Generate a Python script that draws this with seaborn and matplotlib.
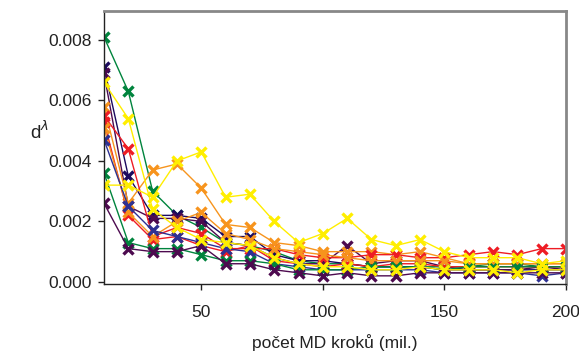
import numpy as np
import pandas as pd
import matplotlib
matplotlib.use("Agg")
import matplotlib.pyplot as plt
import seaborn as sns

steps = [10, 20, 30, 40, 50, 60, 70, 80, 90, 100, 110, 120, 130, 140, 150, 160, 170, 180, 190, 200]

green1 = [0.0081, 0.0063, 0.0030, 0.0022, 0.0018, 0.0013, 0.0012, 0.0010, 0.0007, 0.0006, 0.0006, 0.0005, 0.0005, 0.0005, 0.0005, 0.0005, 0.0006, 0.0006, 0.0005, 0.0005]
navy = [0.0071, 0.0035, 0.0022, 0.0022, 0.0021, 0.0015, 0.0015, 0.0009, 0.0007, 0.0007, 0.0006, 0.0005, 0.0005, 0.0005, 0.0004, 0.0004, 0.0004, 0.0004, 0.0004, 0.0004]
purple1 = [0.0069, 0.0025, 0.0021, 0.0021, 0.0020, 0.0013, 0.0012, 0.0008, 0.0006, 0.0006, 0.0012, 0.0006, 0.0007, 0.0007, 0.0005, 0.0004, 0.0004, 0.0004, 0.0005, 0.0004]
yellow1 = [0.0066, 0.0054, 0.0024, 0.0018, 0.0014, 0.0013, 0.0012, 0.0008, 0.0006, 0.0005, 0.0005, 0.0004, 0.0004, 0.0005, 0.0004, 0.0004, 0.0004, 0.0003, 0.0004, 0.0004]
orange1 = [0.0058, 0.0026, 0.0037, 0.0039, 0.0031, 0.0019, 0.0018, 0.0013, 0.0012, 0.0010, 0.0010, 0.0010, 0.0009, 0.0010, 0.0008, 0.0006, 0.0006, 0.0006, 0.0006, 0.0006]
red1 = [0.0055, 0.0044, 0.0015, 0.0018, 0.0016, 0.0011, 0.0011, 0.0011, 0.0009, 0.0008, 0.0008, 0.0009, 0.0009, 0.0008, 0.0008, 0.0009, 0.0010, 0.0009, 0.0011, 0.0011]
red2 = [0.0053, 0.0022, 0.0014, 0.0015, 0.0012, 0.0010, 0.0012, 0.0007, 0.0006, 0.0005, 0.0006, 0.0005, 0.0006, 0.0006, 0.0005, 0.0005, 0.0005, 0.0005, 0.0005, 0.0005]
orange2 = [0.0051, 0.0023, 0.0015, 0.0020, 0.0023, 0.0016, 0.0014, 0.0011, 0.0010, 0.0009, 0.0008, 0.0007, 0.0007, 0.0007, 0.0007, 0.0006, 0.0006, 0.0006, 0.0006, 0.0006]
blue = [0.0047, 0.0025, 0.0017, 0.0015, 0.0013, 0.0011, 0.0010, 0.0006, 0.0005, 0.0004, 0.0004, 0.0004, 0.0004, 0.0004, 0.0003, 0.0003, 0.0003, 0.0003, 0.0002, 0.0003]
green2 = [0.0036, 0.0013, 0.0011, 0.0011, 0.0009, 0.0007, 0.0007, 0.0006, 0.0004, 0.0004, 0.0004, 0.0005, 0.0005, 0.0005, 0.0004, 0.0005, 0.0005, 0.0005, 0.0005, 0.0005]
purple2 = [0.0026, 0.0011, 0.0010, 0.0010, 0.0012, 0.0006, 0.0006, 0.0004, 0.0003, 0.0002, 0.0003, 0.0002, 0.0002, 0.0003, 0.0003, 0.0003, 0.0003, 0.0003, 0.0003, 0.0003]
yellow2 = [0.0032, 0.0032, 0.0028, 0.0040, 0.0043, 0.0028, 0.0029, 0.0020, 0.0013, 0.0016, 0.0021, 0.0014, 0.0012, 0.0014, 0.0010, 0.0008, 0.0008, 0.0008, 0.0006, 0.0007]

series = [
    ("green1", green1, "#00843D"),
    ("navy", navy, "#1B0A5E"),
    ("purple1", purple1, "#4D0A4F"),
    ("orange1", orange1, "#F7941D"),
    ("red1", red1, "#EE1C24"),
    ("red2", red2, "#EE1C24"),
    ("orange2", orange2, "#F7941D"),
    ("blue", blue, "#2E3192"),
    ("green2", green2, "#00843D"),
    ("purple2", purple2, "#4D0A4F"),
    ("yellow1", yellow1, "#FFEE00"),
    ("yellow2", yellow2, "#FFEE00"),
]

sns.set_style("white")
plt.rcParams["font.family"] = ["Liberation Sans", "DejaVu Sans"]

fig = plt.figure(figsize=(5.79, 3.53), dpi=100)
ax = fig.add_axes([104 / 579, 1 - 284 / 353, (566 - 104) / 579, (284 - 11) / 353])

for name, vals, col in series:
    df = pd.DataFrame({"x": steps, "y": vals})
    sns.lineplot(data=df, x="x", y="y", ax=ax, color=col, linewidth=1.0,
                 marker="x", markersize=6.5, markeredgewidth=2.4,
                 markeredgecolor=col, legend=False)

ax.set_xlim(10, 200)
ax.set_ylim(-0.00007, 0.00896)
ax.set_xticks([50, 100, 150, 200])
ax.set_yticks([0.0, 0.002, 0.004, 0.006, 0.008])
ax.set_yticklabels(["0.000", "0.002", "0.004", "0.006", "0.008"])
ax.tick_params(axis="both", direction="out", length=4, width=1, colors="#222222",
               labelsize=12.5, labelcolor="#222222", pad=5, bottom=True, left=True)
ax.tick_params(axis="x", pad=11)
ax.set_xlabel("počet MD kroků (mil.)", fontsize=12.5, color="#222222", labelpad=10)
ax.set_ylabel("")
fig.text(40 / 579, 1 - 132 / 353, r"d$^{\lambda}$", fontsize=13.5, color="#222222",
         ha="center", va="center")

for s in ["left", "bottom"]:
    ax.spines[s].set_color("#222222")
    ax.spines[s].set_linewidth(1.0)
for s in ["top", "right"]:
    ax.spines[s].set_color("#888888")
    ax.spines[s].set_linewidth(2.0)

fig.savefig("out.png", dpi=100)
